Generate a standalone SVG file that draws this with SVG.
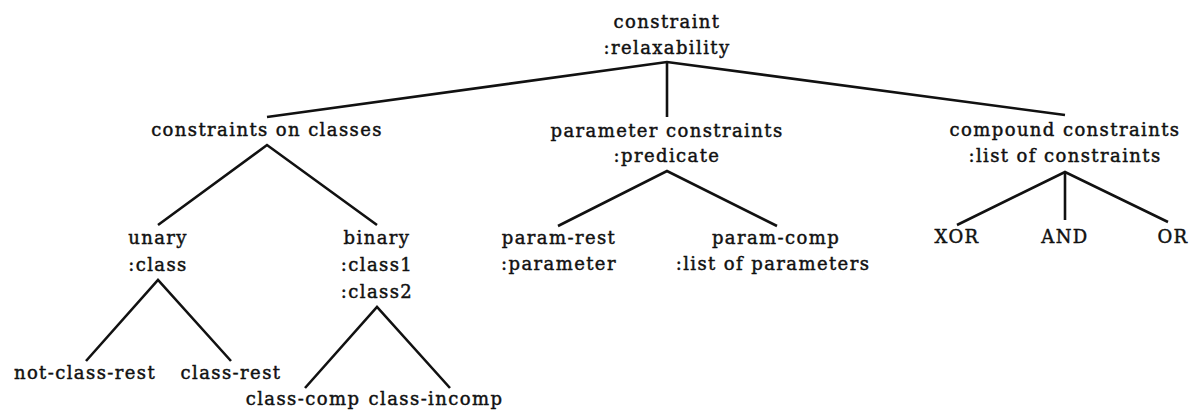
<svg xmlns="http://www.w3.org/2000/svg" width="1200" height="414" viewBox="0 0 1200 414">
<style>
text{font-family:"DejaVu Serif","Liberation Serif",serif;font-size:18px;letter-spacing:1.4px;fill:#111;stroke:#111;stroke-width:0.45;text-anchor:middle}
.c{fill:none;stroke:#111;stroke-width:2.6;stroke-linejoin:miter;stroke-linecap:butt}
</style>
<rect width="1200" height="414" fill="#fff"/>
<g id="connectors">
<path class="c" d="M267,117 L667,62 L1065,115"/>
<path class="c" d="M667,62 L667,117"/>
<path class="c" d="M158,225 L267,145 L377,225"/>
<path class="c" d="M86,361 L158,280 L231,361"/>
<path class="c" d="M305,388 L377,307 L450,388"/>
<path class="c" d="M558,226 L667,171 L777,226"/>
<path class="c" d="M957,225 L1065,172 L1168,222"/>
<path class="c" d="M1065,172 L1065,220"/>
</g>
<g id="root"><text x="667" y="28">constraint</text><text x="667" y="54">:relaxability</text></g>
<g id="classes"><text x="267" y="136">constraints on classes</text></g>
<g id="param"><text x="667" y="137">parameter constraints</text><text x="667" y="162">:predicate</text></g>
<g id="compound"><text x="1065" y="136">compound constraints</text><text x="1065" y="162">:list of constraints</text></g>
<g id="unary"><text x="158" y="244">unary</text><text x="158" y="271">:class</text></g>
<g id="binary"><text x="377" y="244">binary</text><text x="377" y="271">:class1</text><text x="377" y="298">:class2</text></g>
<g id="not-class-rest"><text x="85" y="379">not-class-rest</text></g>
<g id="class-rest"><text x="231" y="379">class-rest</text></g>
<g id="class-comp"><text x="303" y="405">class-comp</text></g>
<g id="class-incomp"><text x="436" y="405">class-incomp</text></g>
<g id="param-rest"><text x="559" y="244">param-rest</text><text x="559" y="270">:parameter</text></g>
<g id="param-comp"><text x="776" y="244">param-comp</text><text x="773" y="270">:list of parameters</text></g>
<g id="xor"><text x="957" y="243">XOR</text></g>
<g id="and"><text x="1065" y="243">AND</text></g>
<g id="or"><text x="1173" y="243">OR</text></g>
</svg>
